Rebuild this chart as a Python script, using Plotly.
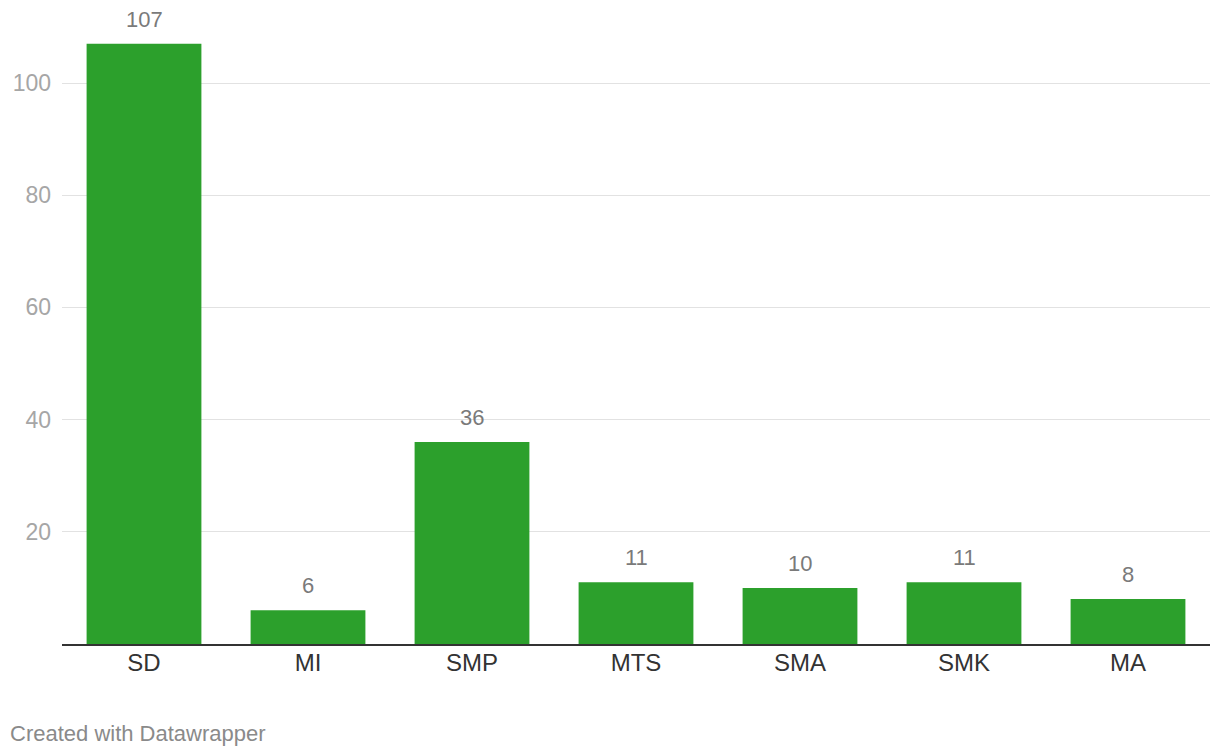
import plotly.graph_objects as go

categories = ["SD", "MI", "SMP", "MTS", "SMA", "SMK", "MA"]
values = [107, 6, 36, 11, 10, 11, 8]
y_ticks = [20, 40, 60, 80, 100]

W, H = 1220, 756
ml, mr, mt, mb = 62, 10, 20, 112
font = "Liberation Sans, Arial, Helvetica, sans-serif"

fig = go.Figure()
fig.add_trace(go.Bar(
    x=categories, y=values,
    marker=dict(color="#2ca02c", line=dict(width=0)),
    hoverinfo="skip",
))

for c, v in zip(categories, values):
    fig.add_annotation(
        x=c, y=v, text=str(v), showarrow=False,
        yanchor="bottom", yshift=10,
        font=dict(family=font, size=22, color="#7a7a7a"),
    )

ph = H - mt - mb
fig.add_annotation(
    xref="paper", yref="paper",
    x=(8 - ml) / (W - ml - mr), y=(H - mb - 733) / ph,
    xanchor="left", yanchor="middle",
    text="Created with Datawrapper", showarrow=False,
    font=dict(family=font, size=22, color="#8a8a8a"),
)

fig.update_layout(
    width=W, height=H,
    margin=dict(l=ml, r=mr, t=mt, b=mb),
    paper_bgcolor="white", plot_bgcolor="white",
    bargap=0.3, showlegend=False,
    font=dict(family=font),
    xaxis=dict(
        showgrid=False, showline=True, linecolor="#333333", linewidth=2,
        ticks="", tickfont=dict(family=font, size=24, color="#333333"),
        ticklabelstandoff=-4,
    ),
    yaxis=dict(
        range=[0, (H - mt - mb) / 5.61], tickvals=y_ticks,
        showgrid=True, gridcolor="#e2e2e2", gridwidth=1,
        zeroline=False, showline=False, ticks="",
        tickfont=dict(family=font, size=23, color="#a6a6a6"),
        ticklabelstandoff=10,
    ),
)

fig.write_html("out.html")
